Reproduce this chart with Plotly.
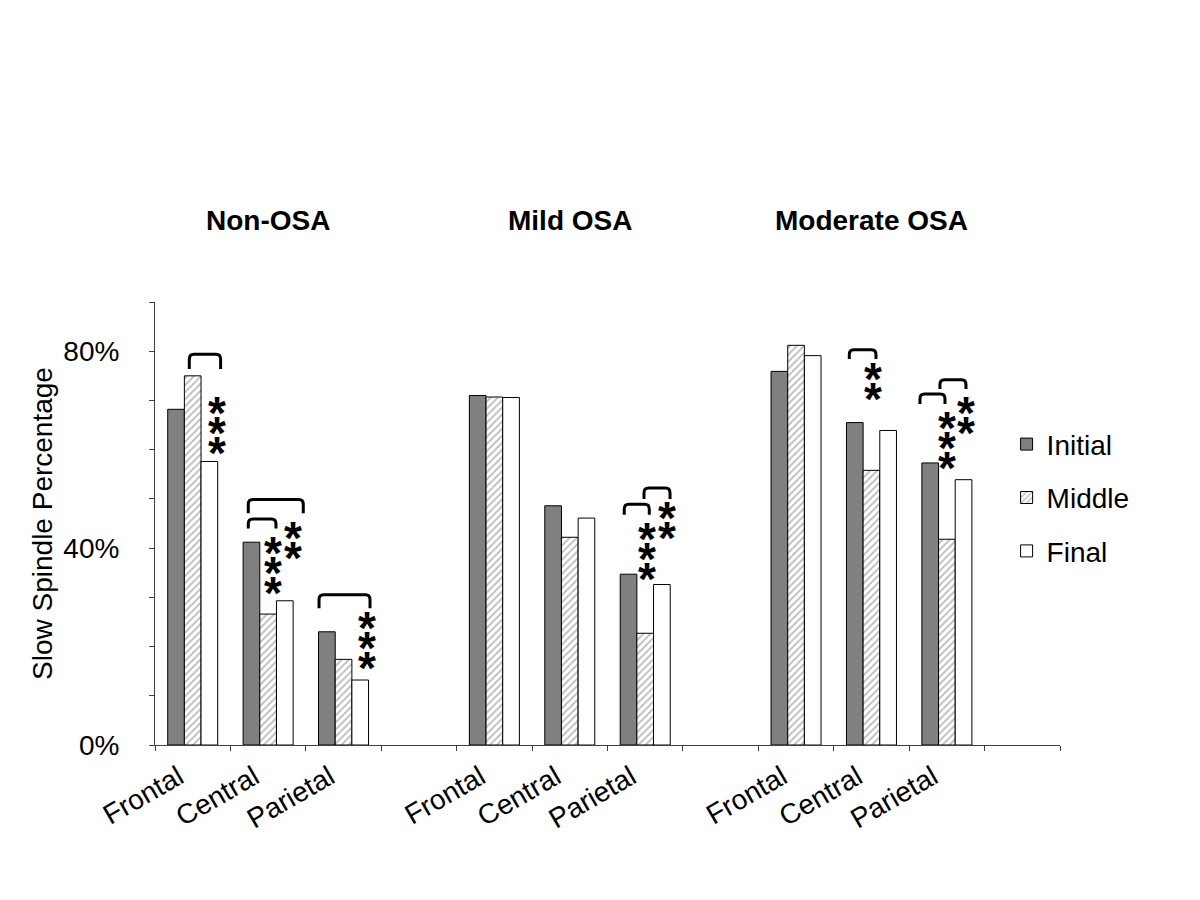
import plotly.graph_objects as go

# ---------------- data ----------------
groups = ["Non-OSA", "Mild OSA", "Moderate OSA"]
regions = ["Frontal", "Central", "Parietal"]
series_names = ["Initial", "Middle", "Final"]
initial = [68.2, 41.2, 23.0, 71.0, 48.6, 34.7, 75.9, 65.5, 57.3]
middle = [75.0, 26.6, 17.4, 70.7, 42.2, 22.7, 81.2, 55.8, 41.8]
final = [57.6, 29.3, 13.2, 70.6, 46.1, 32.6, 79.1, 63.9, 53.9]
y_tick_values = [0, 10, 20, 30, 40, 50, 60, 70, 80, 90]
y_tick_labels = ["0%", "", "", "", "40%", "", "", "", "80%", ""]

FONT = "Liberation Sans, Arial, sans-serif"

# categories: 3 regions + an empty slot per group
cats, tick_text, bar_x = [], [], []
for g in groups:
    for r in regions:
        cats.append(f"{g}|{r}")
        tick_text.append(r)
        bar_x.append(f"{g}|{r}")
    cats.append(f"{g}|")
    tick_text.append("")

fig = go.Figure()
fig.add_trace(go.Bar(
    name=series_names[0], x=bar_x, y=initial, legendgroup="a",
    marker=dict(color="#808080", line=dict(color="#000000", width=1)),
))
fig.add_trace(go.Bar(
    name=series_names[1], x=bar_x, y=middle, legendgroup="b",
    marker=dict(color="#ffffff", line=dict(color="#000000", width=1),
                pattern=dict(shape="/", fgcolor="#7a7a7a", bgcolor="#ffffff",
                             size=5, solidity=0.35)),
))
fig.add_trace(go.Bar(
    name=series_names[2], x=bar_x, y=final, legendgroup="c",
    marker=dict(color="#ffffff", line=dict(color="#000000", width=1)),
))

# ---------------- significance brackets & stars ----------------
brackets = [
    (-0.045, 0.37, 79.4, 76.4),
    (0.737, 1.466, 49.9, 47.1),
    (0.737, 1.104, 45.9, 44.0),
    (1.675, 2.351, 30.5, 27.8),
    (5.722, 6.054, 48.9, 46.8),
    (5.984, 6.329, 52.2, 50.0),
    (8.706, 9.06, 80.3, 78.4),
    (9.643, 9.975, 71.3, 69.3),
    (9.908, 10.253, 74.2, 72.3),
]
rx, ry = 0.06, 1.0
for x0, x1, yt, yb in brackets:
    path = (f"M {x0},{yb} L {x0},{yt - ry} Q {x0},{yt} {x0 + rx},{yt} "
            f"L {x1 - rx},{yt} Q {x1},{yt} {x1},{yt - ry} L {x1},{yb}")
    fig.add_shape(type="path", path=path, xref="x", yref="y",
                  line=dict(color="#000000", width=3), layer="above")

stars = [
    (0.32, 68.7, 3),
    (1.069, 40.3, 3),
    (1.326, 43.3, 2),
    (2.307, 25.05, 3),
    (6.019, 43.1, 3),
    (6.284, 47.4, 2),
    (9.015, 75.6, 2),
    (9.997, 65.7, 3),
    (10.253, 68.7, 2),
]
STAR_SHIFT = -6
for x, y, n in stars:
    for k in range(n):
        fig.add_annotation(x=x, y=y, xref="x", yref="y", text="<b>*</b>",
                           showarrow=False, xanchor="center", yanchor="middle",
                           yshift=STAR_SHIFT - 20 * k,
                           font=dict(family=FONT, size=46, color="#000000"))

# group titles
for g in groups:
    fig.add_annotation(x=f"{g}|Central", y=1.185, xref="x", yref="paper",
                       text=f"<b>{g}</b>", showarrow=False,
                       xanchor="center", yanchor="middle",
                       font=dict(family=FONT, size=28, color="#000000"))

fig.update_layout(
    width=1200, height=900, autosize=False,
    margin=dict(l=147, r=148, t=294, b=163),
    paper_bgcolor="#ffffff", plot_bgcolor="#ffffff",
    barmode="group", bargap=0.337, bargroupgap=0,
    font=dict(family=FONT, size=28, color="#000000"),
    legend=dict(x=0.941, y=0.735, xanchor="left", yanchor="top",
                font=dict(family=FONT, size=28, color="#000000"),
                tracegroupgap=14, bgcolor="rgba(0,0,0,0)"),
    xaxis=dict(type="category", categoryorder="array", categoryarray=cats,
               range=[-0.5, len(cats) - 0.5],
               tickmode="array", tickvals=cats, ticktext=tick_text,
               tickson="boundaries", ticks="outside", ticklen=5,
               tickcolor="#404040", tickangle=-30, ticklabelshift=-14,
               ticklabelstandoff=4,
               showline=True, linecolor="#404040", linewidth=1,
               showgrid=False, zeroline=False,
               tickfont=dict(family=FONT, size=28, color="#000000")),
    yaxis=dict(range=[0, 90], tickmode="array", tickvals=y_tick_values,
               ticktext=y_tick_labels, ticks="outside", ticklen=5,
               tickcolor="#404040", showline=True, linecolor="#404040",
               linewidth=1, showgrid=False, zeroline=False,
               ticklabelstandoff=24,
               tickfont=dict(family=FONT, size=28, color="#000000"),
               title=dict(text="Slow Spindle Percentage", standoff=2,
                          font=dict(family=FONT, size=28, color="#000000"))),
)

fig.write_html("out.html")
